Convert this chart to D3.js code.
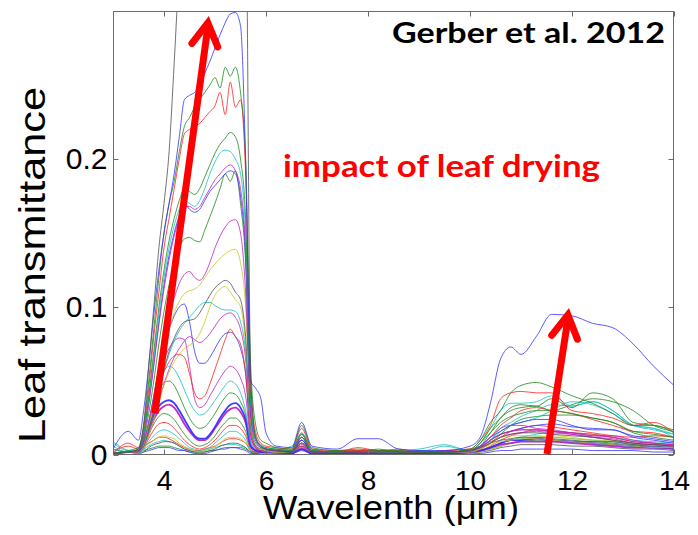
<!DOCTYPE html>
<html>
<head>
<meta charset="utf-8">
<script src="https://cdn.jsdelivr.net/npm/d3@7"></script>
<style>
body{margin:0;background:#fff}
svg{display:block}
</style>
</head>
<body>
<div id="chart"></div>
<script>
// wavelength grid (µm) shared by every spectrum
const wavelength = [3.0, 3.3,
    3.5, 3.6, 3.7, 3.8, 3.9, 4.0, 4.1, 4.2, 4.3, 4.4,
    4.5, 4.6, 4.7, 4.8, 4.9, 5.0, 5.1, 5.2, 5.3, 5.4,
    5.5, 5.6, 5.7, 5.8, 5.9, 6.0, 6.2, 6.5, 6.7, 6.9,
    7.4, 7.8, 8.2, 8.6, 9.0, 9.5, 10.0, 10.2, 10.4, 10.6,
    10.8, 11.0, 11.3, 11.6, 12.0, 12.4, 12.8, 13.2, 13.6, 14.0];

// leaf transmittance spectra, driest first
const curve01 = [0.001, 0.002,
    0.004, 0.02, 0.06, 0.10, 0.14, 0.17, 0.205, 0.265, 0.33, 0.38,
    0.42, 0.44, 0.45, 0.46, 0.47, 0.47, 0.48, 0.48, 0.48, 0.47,
    0.45, 0.40, 0.05, 0.012, 0.006, 0.004, 0.003, 0.002, 0.008, 0.002,
    0.002, 0.002, 0.002, 0.002, 0.002, 0.002, 0.003, 0.005, 0.008, 0.012,
    0.014, 0.015, 0.015, 0.014, 0.013, 0.012, 0.01, 0.008, 0.007, 0.006];
const curve02 = [0.004, 0.016,
    0.01, 0.03, 0.06, 0.095, 0.125, 0.15, 0.17, 0.19, 0.215, 0.24,
    0.243, 0.245, 0.25, 0.258, 0.266, 0.275, 0.284, 0.292, 0.298, 0.299,
    0.29, 0.2, 0.05, 0.045, 0.038, 0.015, 0.006, 0.005, 0.022, 0.006,
    0.004, 0.011, 0.011, 0.004, 0.003, 0.003, 0.006, 0.012, 0.035, 0.065,
    0.073, 0.068, 0.08, 0.095, 0.094, 0.089, 0.086, 0.075, 0.06, 0.047];
const curve03 = [0.001, 0.003,
    0.005, 0.02, 0.05, 0.085, 0.12, 0.15, 0.17, 0.185, 0.205, 0.222,
    0.228, 0.235, 0.24, 0.245, 0.25, 0.255, 0.248, 0.262, 0.256, 0.262,
    0.245, 0.2, 0.06, 0.02, 0.01, 0.008, 0.005, 0.004, 0.02, 0.005,
    0.003, 0.004, 0.003, 0.003, 0.002, 0.002, 0.004, 0.01, 0.022, 0.03,
    0.042, 0.047, 0.049, 0.046, 0.04, 0.035, 0.028, 0.02, 0.02, 0.015];
const curve04 = [0.001, 0.008,
    0.005, 0.018, 0.045, 0.08, 0.11, 0.14, 0.16, 0.18, 0.2, 0.217,
    0.22, 0.222, 0.224, 0.228, 0.232, 0.236, 0.245, 0.23, 0.252, 0.235,
    0.24, 0.19, 0.05, 0.015, 0.008, 0.006, 0.005, 0.004, 0.018, 0.004,
    0.003, 0.003, 0.003, 0.003, 0.002, 0.003, 0.004, 0.01, 0.02, 0.038,
    0.042, 0.043, 0.042, 0.042, 0.03, 0.028, 0.025, 0.02, 0.022, 0.015];
const curve05 = [0.001, 0.002,
    0.004, 0.015, 0.04, 0.07, 0.1, 0.125, 0.145, 0.16, 0.172, 0.18,
    0.178, 0.176, 0.18, 0.188, 0.196, 0.204, 0.21, 0.214, 0.218, 0.215,
    0.2, 0.16, 0.04, 0.012, 0.007, 0.005, 0.004, 0.003, 0.015, 0.003,
    0.002, 0.003, 0.003, 0.002, 0.002, 0.002, 0.003, 0.008, 0.018, 0.025,
    0.032, 0.034, 0.033, 0.038, 0.032, 0.042, 0.038, 0.022, 0.02, 0.017];
const curve06 = [0.006, 0.002,
    0.004, 0.014, 0.038, 0.066, 0.095, 0.12, 0.14, 0.155, 0.166, 0.172,
    0.17, 0.168, 0.172, 0.18, 0.19, 0.198, 0.204, 0.206, 0.205, 0.2,
    0.19, 0.15, 0.035, 0.01, 0.006, 0.005, 0.004, 0.003, 0.014, 0.003,
    0.002, 0.003, 0.002, 0.002, 0.002, 0.002, 0.003, 0.008, 0.018, 0.03,
    0.035, 0.035, 0.036, 0.04, 0.033, 0.036, 0.03, 0.02, 0.018, 0.012];
const curve07 = [0.001, 0.002,
    0.003, 0.012, 0.034, 0.06, 0.088, 0.112, 0.132, 0.148, 0.16, 0.168,
    0.168, 0.166, 0.168, 0.174, 0.18, 0.186, 0.19, 0.194, 0.196, 0.192,
    0.18, 0.14, 0.03, 0.01, 0.006, 0.004, 0.003, 0.003, 0.012, 0.003,
    0.002, 0.002, 0.002, 0.002, 0.002, 0.002, 0.003, 0.006, 0.012, 0.018,
    0.02, 0.02, 0.018, 0.017, 0.015, 0.013, 0.013, 0.01, 0.008, 0.007];
const curve08 = [0.001, 0.002,
    0.003, 0.012, 0.035, 0.062, 0.09, 0.115, 0.135, 0.15, 0.162, 0.17,
    0.166, 0.164, 0.166, 0.172, 0.178, 0.182, 0.186, 0.19, 0.192, 0.19,
    0.175, 0.135, 0.03, 0.01, 0.006, 0.004, 0.003, 0.002, 0.01, 0.002,
    0.002, 0.002, 0.002, 0.002, 0.002, 0.002, 0.003, 0.006, 0.012, 0.016,
    0.02, 0.022, 0.024, 0.024, 0.02, 0.017, 0.017, 0.012, 0.01, 0.008];
const curve09 = [0.001, 0.002,
    0.003, 0.01, 0.028, 0.05, 0.075, 0.097, 0.115, 0.13, 0.14, 0.146,
    0.147, 0.145, 0.144, 0.152, 0.161, 0.17, 0.18, 0.19, 0.185, 0.192,
    0.17, 0.13, 0.03, 0.01, 0.005, 0.004, 0.003, 0.002, 0.012, 0.003,
    0.002, 0.002, 0.002, 0.002, 0.002, 0.002, 0.003, 0.008, 0.015, 0.022,
    0.026, 0.028, 0.03, 0.03, 0.028, 0.025, 0.022, 0.016, 0.014, 0.012];
const curve10 = [0.001, 0.002,
    0.002, 0.008, 0.022, 0.04, 0.06, 0.078, 0.094, 0.106, 0.116, 0.122,
    0.124, 0.12, 0.118, 0.122, 0.13, 0.14, 0.148, 0.154, 0.158, 0.159,
    0.15, 0.11, 0.025, 0.008, 0.005, 0.004, 0.003, 0.002, 0.01, 0.002,
    0.002, 0.002, 0.002, 0.002, 0.002, 0.002, 0.003, 0.005, 0.01, 0.014,
    0.016, 0.017, 0.017, 0.016, 0.014, 0.012, 0.011, 0.008, 0.007, 0.006];
const curve11 = [0.001, 0.002,
    0.002, 0.007, 0.02, 0.036, 0.054, 0.07, 0.085, 0.096, 0.104, 0.109,
    0.111, 0.112, 0.115, 0.12, 0.125, 0.129, 0.133, 0.136, 0.138, 0.139,
    0.13, 0.1, 0.022, 0.007, 0.004, 0.003, 0.002, 0.002, 0.008, 0.002,
    0.002, 0.002, 0.002, 0.002, 0.002, 0.002, 0.003, 0.005, 0.008, 0.012,
    0.013, 0.013, 0.013, 0.012, 0.011, 0.01, 0.01, 0.008, 0.007, 0.006];
const curve12 = [0.001, 0.002,
    0.002, 0.006, 0.017, 0.03, 0.045, 0.058, 0.07, 0.079, 0.086, 0.09,
    0.091, 0.092, 0.096, 0.102, 0.108, 0.113, 0.116, 0.118, 0.116, 0.11,
    0.105, 0.08, 0.02, 0.006, 0.004, 0.003, 0.002, 0.002, 0.008, 0.002,
    0.002, 0.002, 0.002, 0.002, 0.002, 0.002, 0.003, 0.005, 0.008, 0.01,
    0.011, 0.012, 0.012, 0.011, 0.01, 0.009, 0.009, 0.007, 0.006, 0.006];
const curve13 = [0.009, 0.003,
    0.002, 0.006, 0.016, 0.03, 0.044, 0.057, 0.068, 0.077, 0.084, 0.089,
    0.093, 0.097, 0.101, 0.103, 0.103, 0.101, 0.099, 0.098, 0.098, 0.097,
    0.09, 0.07, 0.018, 0.006, 0.004, 0.003, 0.002, 0.002, 0.01, 0.002,
    0.002, 0.002, 0.002, 0.002, 0.002, 0.006, 0.003, 0.006, 0.01, 0.016,
    0.02, 0.022, 0.025, 0.03, 0.036, 0.034, 0.028, 0.02, 0.018, 0.014];
const curve14 = [0.001, 0.002,
    0.002, 0.005, 0.013, 0.024, 0.036, 0.047, 0.056, 0.063, 0.068, 0.072,
    0.074, 0.077, 0.082, 0.09, 0.1, 0.108, 0.112, 0.114, 0.11, 0.105,
    0.1, 0.075, 0.018, 0.006, 0.004, 0.003, 0.002, 0.002, 0.008, 0.002,
    0.002, 0.002, 0.002, 0.002, 0.002, 0.002, 0.002, 0.004, 0.007, 0.009,
    0.01, 0.011, 0.011, 0.01, 0.009, 0.008, 0.007, 0.006, 0.005, 0.005];
const curve15 = [0.001, 0.002,
    0.002, 0.005, 0.013, 0.024, 0.037, 0.048, 0.058, 0.066, 0.072, 0.077,
    0.08, 0.078, 0.076, 0.078, 0.082, 0.087, 0.092, 0.095, 0.096, 0.093,
    0.085, 0.065, 0.016, 0.005, 0.003, 0.003, 0.002, 0.002, 0.007, 0.002,
    0.002, 0.002, 0.002, 0.002, 0.002, 0.002, 0.003, 0.005, 0.01, 0.014,
    0.016, 0.017, 0.017, 0.016, 0.015, 0.013, 0.012, 0.009, 0.008, 0.007];
const curve16 = [0.001, 0.002,
    0.002, 0.006, 0.016, 0.03, 0.045, 0.056, 0.063, 0.067, 0.068, 0.066,
    0.055, 0.042, 0.038, 0.04, 0.048, 0.058, 0.068, 0.078, 0.085, 0.08,
    0.075, 0.055, 0.014, 0.005, 0.003, 0.003, 0.002, 0.002, 0.006, 0.002,
    0.002, 0.002, 0.002, 0.002, 0.002, 0.002, 0.003, 0.006, 0.012, 0.02,
    0.025, 0.03, 0.032, 0.03, 0.028, 0.024, 0.02, 0.016, 0.015, 0.012];
const curve17 = [0.001, 0.002,
    0.002, 0.007, 0.02, 0.036, 0.052, 0.064, 0.072, 0.077, 0.079, 0.078,
    0.06, 0.038, 0.032, 0.034, 0.04, 0.046, 0.052, 0.057, 0.06, 0.058,
    0.052, 0.04, 0.01, 0.004, 0.003, 0.002, 0.002, 0.002, 0.005, 0.002,
    0.002, 0.002, 0.002, 0.002, 0.002, 0.002, 0.002, 0.004, 0.008, 0.012,
    0.014, 0.015, 0.016, 0.015, 0.014, 0.012, 0.01, 0.008, 0.007, 0.006];
const curve18 = [0.004, 0.002,
    0.002, 0.008, 0.022, 0.038, 0.05, 0.057, 0.06, 0.058, 0.052, 0.044,
    0.036, 0.03, 0.027, 0.028, 0.032, 0.037, 0.042, 0.047, 0.05, 0.048,
    0.042, 0.03, 0.008, 0.004, 0.003, 0.002, 0.002, 0.002, 0.006, 0.002,
    0.002, 0.002, 0.002, 0.002, 0.002, 0.002, 0.003, 0.005, 0.01, 0.018,
    0.022, 0.026, 0.03, 0.034, 0.033, 0.036, 0.03, 0.02, 0.017, 0.014];
const curve19 = [0.001, 0.002,
    0.002, 0.008, 0.018, 0.027, 0.033, 0.036, 0.037, 0.035, 0.03, 0.024,
    0.018, 0.013, 0.011, 0.011, 0.014, 0.019, 0.025, 0.03, 0.034, 0.035,
    0.032, 0.024, 0.006, 0.003, 0.002, 0.002, 0.002, 0.001, 0.004, 0.001,
    0.001, 0.001, 0.001, 0.001, 0.001, 0.001, 0.002, 0.003, 0.005, 0.008,
    0.01, 0.01, 0.011, 0.01, 0.009, 0.008, 0.007, 0.006, 0.005, 0.005];
const curve20 = [0.001, 0.002,
    0.002, 0.007, 0.016, 0.024, 0.03, 0.033, 0.034, 0.032, 0.027, 0.021,
    0.016, 0.012, 0.01, 0.01, 0.013, 0.018, 0.023, 0.028, 0.031, 0.032,
    0.029, 0.022, 0.006, 0.003, 0.002, 0.002, 0.002, 0.001, 0.004, 0.001,
    0.001, 0.001, 0.001, 0.001, 0.001, 0.001, 0.002, 0.003, 0.005, 0.007,
    0.008, 0.009, 0.009, 0.009, 0.008, 0.007, 0.006, 0.005, 0.005, 0.004];
const curve21 = [0.001, 0.002,
    0.002, 0.006, 0.014, 0.021, 0.026, 0.028, 0.027, 0.024, 0.019, 0.014,
    0.01, 0.007, 0.006, 0.007, 0.009, 0.013, 0.018, 0.022, 0.025, 0.025,
    0.022, 0.016, 0.005, 0.003, 0.002, 0.002, 0.002, 0.001, 0.012, 0.001,
    0.001, 0.001, 0.001, 0.001, 0.001, 0.001, 0.002, 0.004, 0.008, 0.014,
    0.02, 0.024, 0.026, 0.027, 0.027, 0.025, 0.022, 0.015, 0.012, 0.01];
const curve22 = [0.001, 0.002,
    0.002, 0.005, 0.011, 0.017, 0.021, 0.022, 0.021, 0.018, 0.014, 0.01,
    0.007, 0.005, 0.004, 0.005, 0.007, 0.01, 0.014, 0.018, 0.02, 0.02,
    0.018, 0.013, 0.004, 0.002, 0.002, 0.002, 0.001, 0.001, 0.01, 0.001,
    0.001, 0.001, 0.001, 0.001, 0.001, 0.001, 0.002, 0.003, 0.006, 0.01,
    0.013, 0.015, 0.017, 0.016, 0.015, 0.014, 0.012, 0.009, 0.008, 0.007];
const curve23 = [0.001, 0.002,
    0.001, 0.004, 0.009, 0.013, 0.016, 0.017, 0.016, 0.014, 0.011, 0.008,
    0.005, 0.004, 0.003, 0.004, 0.005, 0.008, 0.011, 0.014, 0.016, 0.016,
    0.014, 0.01, 0.003, 0.002, 0.002, 0.001, 0.001, 0.001, 0.008, 0.001,
    0.001, 0.001, 0.001, 0.001, 0.001, 0.001, 0.002, 0.003, 0.005, 0.008,
    0.01, 0.011, 0.012, 0.012, 0.011, 0.01, 0.009, 0.007, 0.006, 0.005];
const curve24 = [0.001, 0.002,
    0.001, 0.003, 0.007, 0.01, 0.012, 0.013, 0.012, 0.011, 0.008, 0.006,
    0.004, 0.003, 0.002, 0.003, 0.004, 0.006, 0.008, 0.011, 0.012, 0.012,
    0.011, 0.008, 0.003, 0.002, 0.001, 0.001, 0.001, 0.001, 0.005, 0.001,
    0.001, 0.001, 0.001, 0.001, 0.001, 0.001, 0.001, 0.002, 0.004, 0.006,
    0.008, 0.01, 0.012, 0.013, 0.012, 0.01, 0.009, 0.006, 0.005, 0.004];
const curve25 = [0.001, 0.002,
    0.001, 0.002, 0.005, 0.007, 0.008, 0.009, 0.009, 0.008, 0.006, 0.004,
    0.003, 0.002, 0.002, 0.002, 0.003, 0.004, 0.006, 0.007, 0.008, 0.008,
    0.007, 0.005, 0.002, 0.001, 0.001, 0.001, 0.001, 0.001, 0.004, 0.001,
    0.001, 0.001, 0.001, 0.001, 0.001, 0.001, 0.001, 0.002, 0.003, 0.005,
    0.006, 0.007, 0.007, 0.007, 0.006, 0.006, 0.005, 0.004, 0.004, 0.003];
const curve26 = [0.001, 0.002,
    0.001, 0.002, 0.003, 0.004, 0.005, 0.005, 0.005, 0.004, 0.003, 0.003,
    0.002, 0.001, 0.001, 0.001, 0.002, 0.003, 0.004, 0.004, 0.005, 0.005,
    0.004, 0.003, 0.001, 0.001, 0.001, 0.001, 0.001, 0.001, 0.003, 0.001,
    0.001, 0.001, 0.001, 0.001, 0.001, 0.001, 0.001, 0.001, 0.002, 0.003,
    0.003, 0.004, 0.004, 0.004, 0.004, 0.003, 0.003, 0.003, 0.002, 0.002];
const curve27 = [0.001, 0.002,
    0.002, 0.007, 0.02, 0.033, 0.043, 0.049, 0.05, 0.047, 0.04, 0.032,
    0.025, 0.02, 0.018, 0.019, 0.023, 0.028, 0.034, 0.039, 0.042, 0.041,
    0.036, 0.027, 0.007, 0.003, 0.003, 0.002, 0.002, 0.002, 0.014, 0.002,
    0.002, 0.002, 0.002, 0.002, 0.002, 0.002, 0.003, 0.006, 0.015, 0.025,
    0.03, 0.032, 0.033, 0.03, 0.034, 0.038, 0.036, 0.03, 0.02, 0.016];
const curve28 = [0.001, 0.002,
    0.002, 0.008, 0.022, 0.04, 0.058, 0.073, 0.085, 0.094, 0.1, 0.102,
    0.09, 0.07, 0.062, 0.062, 0.066, 0.072, 0.078, 0.082, 0.083, 0.08,
    0.072, 0.055, 0.013, 0.005, 0.003, 0.003, 0.002, 0.002, 0.006, 0.002,
    0.002, 0.002, 0.002, 0.002, 0.002, 0.002, 0.003, 0.005, 0.01, 0.014,
    0.016, 0.018, 0.02, 0.021, 0.019, 0.018, 0.017, 0.013, 0.011, 0.009];
const curve29 = [0.002, 0.006,
    0.004, 0.006, 0.008, 0.01, 0.012, 0.012, 0.011, 0.009, 0.007, 0.005,
    0.004, 0.003, 0.003, 0.004, 0.005, 0.006, 0.008, 0.01, 0.011, 0.011,
    0.01, 0.008, 0.003, 0.002, 0.003, 0.002, 0.004, 0.003, 0.014, 0.004,
    0.002, 0.005, 0.003, 0.004, 0.002, 0.003, 0.004, 0.006, 0.009, 0.012,
    0.016, 0.018, 0.02, 0.019, 0.017, 0.015, 0.013, 0.012, 0.013, 0.012];
const curve30 = [0.008, 0.003,
    0.003, 0.004, 0.006, 0.008, 0.009, 0.01, 0.009, 0.008, 0.006, 0.004,
    0.003, 0.002, 0.002, 0.003, 0.004, 0.005, 0.006, 0.007, 0.007, 0.007,
    0.006, 0.005, 0.002, 0.002, 0.003, 0.002, 0.003, 0.006, 0.01, 0.003,
    0.002, 0.003, 0.002, 0.003, 0.004, 0.007, 0.003, 0.003, 0.005, 0.008,
    0.01, 0.012, 0.014, 0.016, 0.015, 0.014, 0.012, 0.01, 0.009, 0.008];
const curve31 = [0.004, 0.002,
    0.002, 0.003, 0.004, 0.005, 0.006, 0.006, 0.006, 0.005, 0.004, 0.003,
    0.002, 0.002, 0.002, 0.002, 0.003, 0.003, 0.004, 0.005, 0.005, 0.005,
    0.005, 0.004, 0.002, 0.002, 0.002, 0.002, 0.002, 0.003, 0.008, 0.002,
    0.003, 0.002, 0.004, 0.002, 0.003, 0.002, 0.002, 0.003, 0.004, 0.006,
    0.008, 0.009, 0.01, 0.01, 0.009, 0.009, 0.008, 0.007, 0.007, 0.006];

const curves = [curve01, curve02, curve03, curve04, curve05, curve06, curve07, curve08,
    curve09, curve10, curve11, curve12, curve13, curve14, curve15, curve16, curve17,
    curve18, curve19, curve20, curve21, curve22, curve23, curve24, curve25, curve26,
    curve27, curve28, curve29, curve30, curve31];
// matlab colour letters, one per curve
const curveColors = ["k","b","g","r","g","c","m","b","g","m","y","k","c","y","m","r",
    "m","c","b","m","g","r","c","y","k","b","g","b","r","c","g"];
const matlab = {b:"#3333ff", g:"#1a8a1a", r:"#ff2020", c:"#19c0c0", m:"#c020c0", y:"#c8c820", k:"#505050"};

const xTicks = [4, 6, 8, 10, 12, 14];
const yTicks = [0, 0.1, 0.2];
const yTickLabels = ["0", "0.1", "0.2"];
// annotation arrows in data units [wavelength, transmittance]
const arrowFrom = [[3.82, 0.028], [11.51, 0.0007]];
const arrowTo = [[4.86, 0.292], [11.92, 0.0946]];

let width = 698, height = 535;
let plotLeft = 113, plotRight = 674, plotTop = 11, plotBottom = 455;

let x = d3.scaleLinear().domain([3, 14]).range([plotLeft, plotRight]);
let y = d3.scaleLinear().domain([0, 0.3]).range([plotBottom, plotTop]);

let svg = d3.select("#chart").append("svg")
    .attr("width", width)
    .attr("height", height);

svg.append("defs").append("clipPath").attr("id", "plotclip")
    .append("rect")
    .attr("x", plotLeft).attr("y", plotTop)
    .attr("width", plotRight - plotLeft).attr("height", plotBottom - plotTop);

let line = d3.line()
    .x((d, i) => x(wavelength[i]))
    .y(d => y(d))
    .curve(d3.curveMonotoneX);

let lines = svg.append("g").attr("clip-path", "url(#plotclip)");
// freshest leaves drawn first, dry ones on top
for (let i = curves.length - 1; i >= 0; i--) {
    let c = curves[i];
    if (c.length != wavelength.length) console.error("bad length", i, c.length);
    let thick = (i == 18 || i == 19);
    lines.append("path")
        .datum(c)
        .attr("fill", "none")
        .attr("stroke", matlab[curveColors[i]])
        .attr("stroke-width", thick ? 1.8 : 1)
        .attr("stroke-opacity", thick ? 0.95 : 0.8)
        .attr("d", line);
}

// frame
svg.append("rect")
    .attr("x", plotLeft + 0.5).attr("y", plotTop + 0.5)
    .attr("width", plotRight - plotLeft - 1).attr("height", plotBottom - plotTop - 1)
    .attr("fill", "none")
    .attr("stroke", "#6b6b6b")
    .attr("stroke-width", 1);

let tickFont = (g, size) => g
    .call(g => g.select(".domain").remove())
    .call(g => g.selectAll(".tick line").attr("stroke", "#6b6b6b"))
    .call(g => g.selectAll("text")
        .attr("font-family", "'Liberation Sans', Arial, sans-serif")
        .attr("font-size", size)
        .attr("fill", "#000"));

svg.append("g")
    .attr("transform", `translate(0,${plotBottom - 0.5})`)
    .call(d3.axisBottom(x).tickValues(xTicks).tickFormat(d3.format("d"))
        .tickSizeInner(-5).tickSizeOuter(0).tickPadding(16))
    .call(tickFont, 28);

svg.append("g")
    .attr("transform", `translate(0,${plotTop + 0.5})`)
    .call(d3.axisTop(x).tickValues(xTicks).tickFormat("")
        .tickSizeInner(-5).tickSizeOuter(0))
    .call(tickFont, 28);

svg.append("g")
    .attr("transform", `translate(${plotLeft + 0.5},0)`)
    .call(d3.axisLeft(y).tickValues(yTicks).tickFormat((d, i) => yTickLabels[i])
        .tickSizeInner(-5).tickSizeOuter(0).tickPadding(6))
    .call(tickFont, 30);

svg.append("g")
    .attr("transform", `translate(${plotRight - 0.5},0)`)
    .call(d3.axisRight(y).tickValues(yTicks).tickFormat("")
        .tickSizeInner(-5).tickSizeOuter(0))
    .call(tickFont, 30);

// axis titles
svg.append("text")
    .attr("x", 391).attr("y", 519)
    .attr("text-anchor", "middle")
    .attr("font-family", "'Liberation Sans', Arial, sans-serif")
    .attr("font-size", 33)
    .attr("textLength", 256)
    .attr("lengthAdjust", "spacingAndGlyphs")
    .text("Wavelenth (μm)");

svg.append("text")
    .attr("transform", "translate(45,265) rotate(-90)")
    .attr("text-anchor", "middle")
    .attr("font-family", "'Liberation Sans', Arial, sans-serif")
    .attr("font-size", 36)
    .attr("textLength", 356)
    .attr("lengthAdjust", "spacingAndGlyphs")
    .text("Leaf transmittance");

// annotations
svg.append("text")
    .attr("x", 665).attr("y", 43)
    .attr("text-anchor", "end")
    .attr("font-family", "Lato, 'Open Sans', sans-serif")
    .attr("font-weight", 700)
    .attr("font-size", 29)
    .attr("textLength", 273)
    .attr("lengthAdjust", "spacingAndGlyphs")
    .text("Gerber et al. 2012");

svg.append("text")
    .attr("x", 283).attr("y", 177)
    .attr("font-family", "Lato, 'Open Sans', sans-serif")
    .attr("font-weight", 700)
    .attr("font-size", 30)
    .attr("fill", "#ff0000")
    .attr("textLength", 317)
    .attr("lengthAdjust", "spacingAndGlyphs")
    .text("impact of leaf drying");

let arrowG = svg.append("g")
    .attr("stroke", "#ff0000")
    .attr("fill", "none")
    .attr("stroke-width", 7);
arrowFrom.forEach((f, i) => {
    let x0 = x(f[0]), y0 = y(f[1]);
    let x1 = x(arrowTo[i][0]), y1 = y(arrowTo[i][1]);
    arrowG.append("line")
        .attr("x1", x0).attr("y1", y0)
        .attr("x2", x1).attr("y2", y1 + 4);
    let ang = Math.atan2(y0 - y1, x0 - x1);
    let len = 26, spread = 30 * Math.PI / 180;
    let a1 = [x1 + len * Math.cos(ang + spread), y1 + len * Math.sin(ang + spread)];
    let a2 = [x1 + len * Math.cos(ang - spread), y1 + len * Math.sin(ang - spread)];
    arrowG.append("path")
        .attr("stroke-linecap", "round")
        .attr("stroke-linejoin", "miter")
        .attr("d", `M${a1[0]},${a1[1]}L${x1},${y1}L${a2[0]},${a2[1]}`);
});
</script>
</body>
</html>
